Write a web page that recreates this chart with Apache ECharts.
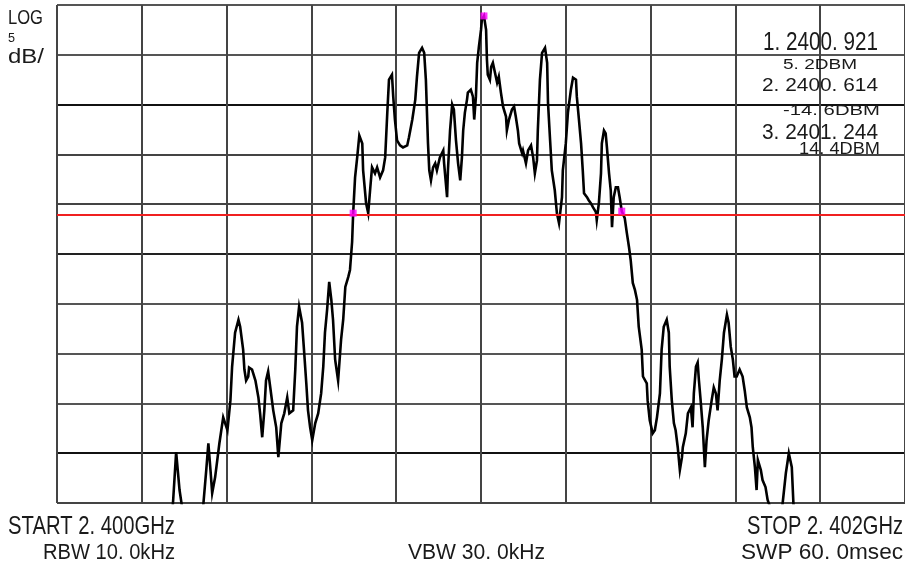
<!DOCTYPE html>
<html>
<head>
<meta charset="utf-8">
<script src="https://cdn.jsdelivr.net/npm/echarts@6/dist/echarts.min.js"></script>
<style>
html,body{margin:0;padding:0;background:#fff;}
#chart{width:905px;height:567px;}
</style>
</head>
<body>
<div id="chart"></div>
<script>
// ---- Data ----
const START_MHZ = 2400.000;
const SPAN_KHZ = 2000;          // 2.400 GHz .. 2.402 GHz
const REF_LEVEL_DBM = 6.3;      // top graticule line
const DB_PER_DIV = 5;           // LOG 5 dB/
const DIVISIONS = 10;

// Trace: frequency offset from start (kHz) and level (dBm)
const freqKHz = [
  0,102,197,267,274,281,289,296,326,345,
  352,357,362,366,373,383,392,402,409,413,
  420,428,432,439,442,446,451,453,460,468,
  475,479,484,489,493,498,503,510,517,522,
  529,536,543,548,557,562,566,571,578,583,
  588,592,597,602,609,616,623,628,632,637,
  642,647,651,656,663,670,675,680,687,691,
  696,698.5,703,708,713,720,722,729,734,739,
  743,750,755,762,769,774,779,783,790,793,
  797,802,809,816,826,830,838,845,849,854,
  861,866,870,875,878,882,887,892,896,903,
  911,913,920,922,927,932,936,941,946,951,
  955,958,962,967,969,976,981,984,988,991,
  995,1000,1002,1007,1012,1014,1016,1021,1024,1028,
  1033,1038,1042,1047,1052,1059,1061,1066,1073,1078,
  1082,1087,1090,1097,1099,1106,1111,1118,1123,1127,
  1132,1134,1139,1144,1151,1156,1158,1163,1167,1174,
  1179,1184,1191,1193,1200,1205,1212,1217,1224,1226,
  1231,1236,1240,1243,1250,1254,1259,1264,1271,1273,
  1278,1283,1285,1290,1294,1297,1302,1306,1309,1313,
  1318,1323,1327,1332,1339,1344,1349,1353,1358,1363,
  1368,1372,1379,1382,1391,1393,1398,1405,1410,1415,
  1422,1426,1431,1438,1443,1445,1450,1455,1459,1464,
  1469,1474,1476,1483,1488,1495,1499,1502,1507,1511,
  1514,1518,1523,1528,1532,1537,1544,1549,1554,1558,
  1563,1568,1573,1580,1584,1589,1594,1598,1603,1610,
  1617,1622,1627,1634,1638,1641,1646,1650,1653,1660,
  1664,1671,1676,1686,1700,1711,1719,1726,1733,1737,
  1744,1822,1916,2000
];
const levelDBm = [
  -47.9,-48.4,-47.9,-47.4,-43.4,-38.6,-42.4,-44.4,-47.4,-43.9,
  -40.4,-37.7,-40.4,-42.7,-41.1,-37.7,-35.1,-36.4,-33.4,-30.0,
  -26.6,-25.3,-26.0,-28.3,-30.3,-31.4,-31.0,-30.1,-30.3,-31.4,
  -33.1,-34.7,-37.1,-34.4,-31.4,-30.5,-32.1,-34.4,-36.1,-39.1,
  -35.7,-34.7,-33.1,-34.7,-34.4,-30.3,-26.0,-24.0,-25.6,-28.6,
  -31.7,-34.4,-36.1,-37.4,-35.7,-34.7,-32.7,-30.0,-26.6,-24.3,
  -21.5,-23.3,-25.3,-29.3,-31.4,-27.3,-25.3,-22.0,-21.0,-20.3,
  -17.5,-14.6,-11.0,-9.0,-6.8,-7.6,-10.3,-13.6,-14.6,-12.0,
  -10.0,-10.6,-10.0,-11.0,-10.3,-9.0,-4.5,-1.2,-0.7,-2.9,
  -5.2,-7.3,-7.8,-8.0,-7.8,-7.0,-5.2,-3.2,-0.9,1.5,
  2.0,1.5,-1.2,-7.6,-10.3,-11.3,-10.0,-9.6,-10.3,-9.0,
  -8.3,-9.6,-13.0,-10.3,-6.3,-3.7,-4.2,-7.3,-9.6,-11.3,
  -9.0,-6.3,-4.5,-3.2,-2.5,-2.2,-2.9,-5.2,-2.9,0.5,
  2.1,3.8,4.8,5.2,3.8,0.8,-0.7,-1.2,0.1,0.5,
  -0.5,-1.5,-0.9,-2.5,-3.9,-4.9,-6.3,-5.2,-4.2,-3.9,
  -4.9,-6.3,-7.6,-8.6,-8.3,-9.6,-8.3,-7.8,-9.0,-10.6,
  -9.3,-6.3,-1.2,1.5,2.0,0.5,-3.5,-7.3,-10.3,-12.3,
  -14.6,-15.6,-13.0,-10.3,-7.6,-4.5,-2.2,-1.0,-1.2,-2.9,
  -5.2,-7.6,-10.3,-12.6,-13.0,-13.3,-13.6,-14.0,-14.5,-15.3,
  -13.6,-10.6,-7.6,-6.3,-6.6,-8.0,-10.6,-12.3,-16.0,-13.0,
  -12.0,-12.0,-13.0,-14.4,-15.1,-16.6,-18.0,-19.3,-21.6,-22.3,
  -23.3,-26.0,-28.3,-31.0,-31.7,-33.4,-35.4,-36.7,-36.4,-35.1,
  -32.7,-28.3,-26.0,-25.3,-26.6,-30.0,-33.4,-35.7,-36.4,-38.1,
  -40.4,-39.1,-38.1,-36.7,-34.7,-34.1,-36.1,-32.7,-30.0,-29.6,
  -31.4,-33.4,-36.1,-40.1,-37.4,-35.4,-33.4,-32.1,-32.7,-34.4,
  -31.4,-29.3,-26.6,-24.8,-25.6,-28.0,-29.3,-31.0,-31.0,-30.3,
  -31.0,-32.4,-34.1,-35.1,-36.1,-38.1,-40.1,-42.4,-39.4,-40.4,
  -41.4,-42.1,-43.4,-44.6,-45.4,-43.9,-40.7,-38.7,-40.1,-43.9,
  -46.4,-47.9,-48.4,-47.9
];

// Markers (positions on the trace) and display line
const markerFreqKHz = [1007, 698.5, 1332];
const markerLevelDBm = [5.2, -14.6, -14.4];
const displayLineDBm = -14.8;

// Texts
const markerReadout = ['1. 2400. 921', '5. 2DBM', '2. 2400. 614', '-14. 6DBM', '3. 2401. 244', '14. 4DBM'];
const scaleLabels = ['LOG', '5', 'dB/'];
const footerLabels = ['START 2. 400GHz', 'RBW 10. 0kHz', 'VBW 30. 0kHz', 'STOP 2. 402GHz', 'SWP 60. 0msec'];

// ---- Layout ----
const FONT_FAMILY = "'Liberation Sans', Arial, sans-serif";
const BASE_FS = 20;
const CAP = 0.716;
const measureCtx = document.createElement('canvas').getContext('2d');
measureCtx.font = BASE_FS + 'px ' + FONT_FAMILY;

// [left, right, capTop, capBottom] boxes for each text
const scaleBoxes = [[8, 43, 11, 26], [8, 15, 34, 43], [8, 44, 50, 65]];
const readoutBoxes = [
  [763, 878, 33, 52], [783, 857, 59, 70], [762, 878, 79, 92],
  [783, 880, 105, 116], [762, 878, 125, 141], [799, 880, 143, 155]
];
const footerBoxes = [
  [8, 175, 518, 536], [43, 175, 545, 561], [408, 545, 545, 561],
  [747, 903, 518, 536], [741, 903, 545, 561]
];

function fittedText(str, box) {
  const w = measureCtx.measureText(str).width;
  const [l, r, t, b] = box;
  return {
    type: 'text',
    x: l,
    y: (t + b) / 2,
    scaleX: (r - l) / w,
    scaleY: (b - t) / (CAP * BASE_FS),
    silent: true,
    z: 100,
    style: {
      text: str,
      fontSize: BASE_FS,
      fontFamily: FONT_FAMILY,
      fill: '#1a1a1a',
      align: 'left',
      verticalAlign: 'middle'
    }
  };
}

const graphics = [];
scaleLabels.forEach((s, i) => graphics.push(fittedText(s, scaleBoxes[i])));
markerReadout.forEach((s, i) => graphics.push(fittedText(s, readoutBoxes[i])));
footerLabels.forEach((s, i) => graphics.push(fittedText(s, footerBoxes[i])));

const traceData = freqKHz.map((f, i) => [f, levelDBm[i]]);
const markerData = markerFreqKHz.map((f, i) => [f, markerLevelDBm[i]]);

const chart = echarts.init(document.getElementById('chart'), null, { renderer: 'canvas' });
chart.setOption({
  animation: false,
  backgroundColor: '#ffffff',
  grid: { left: 57, right: 0, top: 5, bottom: 64, containLabel: false },
  xAxis: {
    type: 'value',
    min: 0,
    max: SPAN_KHZ,
    interval: SPAN_KHZ / DIVISIONS,
    axisLine: { show: false },
    axisTick: { show: false },
    axisLabel: { show: false },
    splitLine: { show: true, lineStyle: { color: '#444', width: 2 } }
  },
  yAxis: {
    type: 'value',
    min: REF_LEVEL_DBM - DB_PER_DIV * DIVISIONS,
    max: REF_LEVEL_DBM,
    interval: DB_PER_DIV,
    axisLine: { show: false },
    axisTick: { show: false },
    axisLabel: { show: false },
    splitLine: {
      show: true,
      lineStyle: {
        color: ['#444', '#111', '#555', '#555', '#555', '#222', '#444', '#444', '#111', '#555', '#555'],
        width: 2
      }
    }
  },
  series: [
    {
      type: 'line',
      data: traceData,
      showSymbol: false,
      symbol: 'none',
      clip: true,
      lineStyle: { color: '#000', width: 2.6, join: 'miter' },
      z: 3,
      markLine: {
        silent: true,
        symbol: 'none',
        label: { show: false },
        lineStyle: { color: '#f02020', width: 2, type: 'solid' },
        data: [{ yAxis: displayLineDBm }]
      }
    },
    {
      type: 'scatter',
      data: markerData,
      symbol: 'rect',
      symbolSize: 7,
      itemStyle: { color: '#ff00ff' },
      z: 5,
      silent: true
    }
  ],
  graphic: graphics
});
</script>
</body>
</html>
